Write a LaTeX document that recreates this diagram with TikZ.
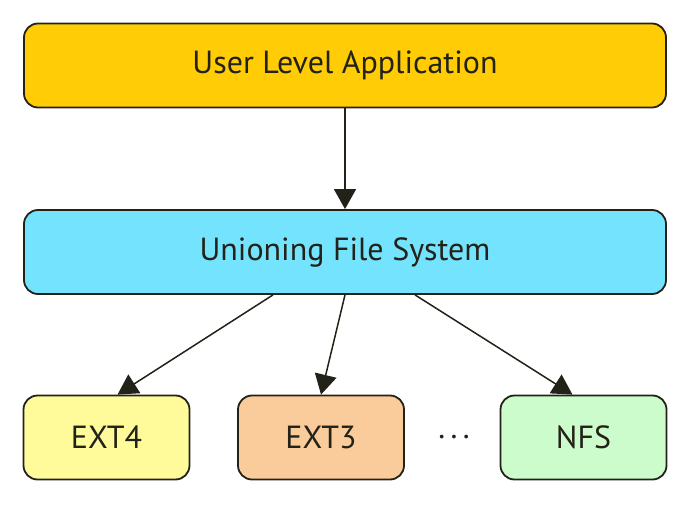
\documentclass[tikz,border=0pt]{standalone}
\usepackage{fontspec}
\setmainfont{PT Sans}
\usetikzlibrary{positioning, arrows.meta}
\usepackage{xcolor}
\definecolor{AppYellow}{HTML}{FFCC05}
\definecolor{UnionCyan}{HTML}{74E3FD}
\definecolor{ExtYellow}{HTML}{FFFA9A}
\definecolor{ExtOrange}{HTML}{FACB9B}
\definecolor{NfsGreen}{HTML}{CCFBCC}
\definecolor{Ink}{HTML}{222218}

\tikzset{
  layer/.style={draw=Ink, line width=1.8pt, rounded corners=14pt,
                minimum height=84pt, text=Ink,
                font=\fontsize{32}{32}\selectfont},
  fsbox/.style={layer, minimum width=166pt},
  link/.style={draw=Ink, line width=1.5pt, -{Triangle[width=22pt,length=20pt]}},
}

\begin{document}
\begin{tikzpicture}[x=1pt, y=-1pt]
  \useasboundingbox (0,0) rectangle (690,505);
  % layers
  \node[layer, fill=AppYellow, minimum width=642pt] (app) at (345,65.5) {User Level Application};
  \node[layer, fill=UnionCyan, minimum width=642pt] (union) at (345,252) {Unioning File System};
  % file systems underneath
  \node[fsbox, fill=ExtYellow] (ext4) at (106.5,437.5) {EXT4};
  \node[fsbox, fill=ExtOrange] (ext3) at (321,437.5) {EXT3};
  \node[fsbox, fill=NfsGreen] (nfs) at (583.5,437.5) {NFS};
  \node[text=Ink, font=\fontsize{32}{32}\selectfont] (dots) at (454,437.5) {.\,.\,.};
  % connectors
  \draw[link] (app) -- (union);
  \draw[link] ([xshift=-72pt]union.south) -- ([xshift=11pt]ext4.north);
  \draw[link] (union.south) -- (ext3.north);
  \draw[link] ([xshift=70pt]union.south) -- ([xshift=-11pt]nfs.north);
\end{tikzpicture}
\end{document}
